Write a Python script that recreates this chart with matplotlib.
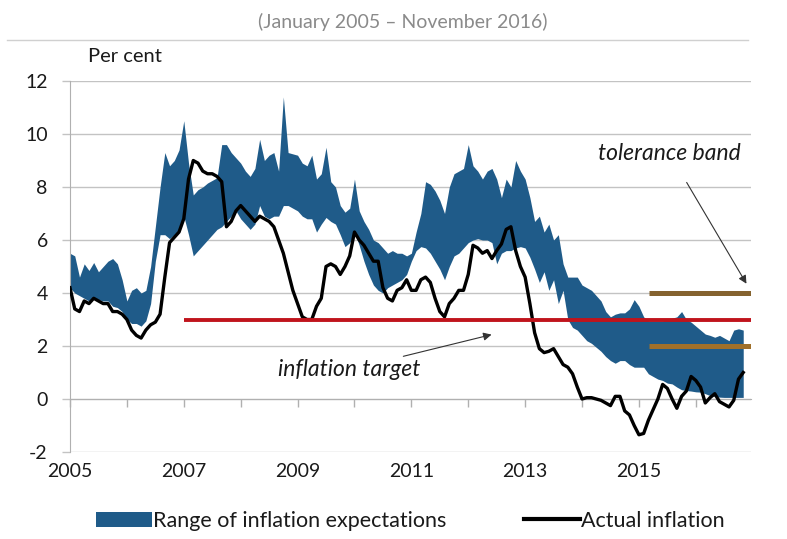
import numpy as np
import matplotlib
matplotlib.use("Agg")
import matplotlib.pyplot as plt
from matplotlib.patches import Patch
from matplotlib.lines import Line2D

plt.rcParams['font.family'] = ['Lato', 'DejaVu Sans']

# ---------------- data (monthly, Jan 2005 - Nov 2016) ----------------
start_year = 2005
band_upper = [5.5, 5.4, 4.6, 5.1, 4.85, 5.15, 4.8, 5.0, 5.2, 5.3, 5.1, 4.5,
              3.7, 4.1, 4.2, 4.0, 4.1, 5.0, 6.5, 8.0, 9.3, 8.8, 9.0, 9.4,
              10.5, 8.9, 7.7, 7.9, 8.0, 8.15, 8.25, 8.35, 9.6, 9.6, 9.3, 9.1,
              8.9, 8.6, 8.4, 8.7, 9.8, 9.0, 9.2, 9.3, 8.6, 11.4, 9.3, 9.25,
              9.2, 8.9, 8.8, 9.2, 8.3, 8.5, 9.5, 8.2, 8.0, 7.3, 7.05, 7.2,
              8.3, 7.1, 6.7, 6.4, 6.0, 5.9, 5.7, 5.5, 5.6, 5.5, 5.5, 5.4,
              5.5, 6.3, 7.0, 8.2, 8.1, 7.85, 7.5, 7.0, 8.0, 8.5, 8.6, 8.7,
              9.6, 8.8, 8.6, 8.3, 8.6, 8.7, 8.3, 7.6, 8.3, 8.0, 9.0, 8.6,
              8.3, 7.6, 6.7, 6.9, 6.3, 6.6, 6.0, 6.2, 5.1, 4.6, 4.6, 4.6,
              4.3, 4.2, 4.1, 3.9, 3.7, 3.3, 3.1, 3.2, 3.25, 3.25, 3.4, 3.75,
              3.5, 3.1, 2.95, 2.95, 2.95, 2.95, 3.0, 3.05, 3.1, 3.3, 3.0, 2.9,
              2.75, 2.6, 2.45, 2.4, 2.33, 2.4, 2.3, 2.2, 2.6, 2.65, 2.6]
band_lower = [4.2, 4.0, 3.9, 3.8, 3.7, 3.85, 3.75, 3.7, 3.7, 3.5, 3.45, 3.3,
              3.0, 2.85, 2.85, 2.75, 2.95, 3.6, 5.2, 6.2, 6.2, 6.05, 6.2, 6.4,
              6.9, 6.2, 5.4, 5.6, 5.8, 6.0, 6.2, 6.4, 6.5, 6.7, 6.9, 7.1,
              6.8, 6.6, 6.4, 6.6, 7.3, 6.9, 6.8, 6.9, 6.9, 7.3, 7.3, 7.2,
              7.1, 6.9, 6.8, 6.8, 6.3, 6.6, 6.85, 6.7, 6.6, 6.2, 5.75, 5.9,
              6.3, 5.8, 5.2, 4.7, 4.3, 4.1, 4.0, 4.2, 4.3, 4.4, 4.5, 4.7,
              5.2, 5.6, 5.75, 5.7, 5.5, 5.2, 4.9, 4.5, 5.0, 5.4, 5.5, 5.7,
              5.9, 6.0, 6.05, 6.0, 6.0, 5.9, 5.1, 5.5, 5.6, 5.6, 5.7, 5.75,
              5.7, 5.35, 4.9, 4.4, 4.8, 4.1, 4.5, 3.6, 4.1, 3.0, 2.7, 2.6,
              2.4, 2.2, 2.1, 1.95, 1.8, 1.6, 1.45, 1.35, 1.45, 1.45, 1.3, 1.2,
              1.2, 1.2, 0.95, 0.85, 0.75, 0.7, 0.6, 0.57, 0.45, 0.35, 0.32, 0.3,
              0.27, 0.26, 0.2, 0.13, 0.1, 0.07, 0.06, 0.06, 0.06, 0.06, 0.06]
actual_inflation = [4.2, 3.4, 3.3, 3.7, 3.6, 3.8, 3.7, 3.6, 3.6, 3.3, 3.3, 3.2,
                    3.0, 2.6, 2.4, 2.3, 2.6, 2.8, 2.9, 3.2, 4.6, 5.9, 6.1, 6.3,
                    6.8, 8.3, 9.0, 8.9, 8.6, 8.5, 8.5, 8.4, 8.2, 6.5, 6.7, 7.1,
                    7.3, 7.1, 6.9, 6.7, 6.9, 6.8, 6.7, 6.5, 6.0, 5.5, 4.8, 4.1,
                    3.6, 3.1, 3.0, 3.0, 3.5, 3.8, 5.0, 5.1, 5.0, 4.7, 5.0, 5.4,
                    6.3, 6.0, 5.8, 5.5, 5.2, 5.2, 4.2, 3.8, 3.7, 4.1, 4.2, 4.5,
                    4.1, 4.1, 4.5, 4.6, 4.4, 3.8, 3.3, 3.1, 3.6, 3.8, 4.1, 4.1,
                    4.7, 5.8, 5.7, 5.5, 5.6, 5.3, 5.6, 5.85, 6.4, 6.5, 5.6, 5.0,
                    4.6, 3.6, 2.5, 1.9, 1.75, 1.8, 1.9, 1.6, 1.3, 1.2, 0.95, 0.45,
                    0.0, 0.05, 0.05, 0.0, -0.05, -0.15, -0.25, 0.1, 0.1, -0.45, -0.6, -1.0,
                    -1.35, -1.3, -0.8, -0.4, 0.0, 0.55, 0.4, 0.0, -0.35, 0.1, 0.3, 0.85,
                    0.7, 0.45, -0.15, 0.05, 0.2, -0.1, -0.2, -0.3, -0.05, 0.75, 1.0]

inflation_target = 3.0
target_start = 2007.0
tolerance_band = [4.0, 2.0]
tolerance_start = 2015.17
year_ticks = list(range(2005, 2017))
year_labels = ['2005', '2007', '2009', '2011', '2013', '2015']
label_years = [2005, 2007, 2009, 2011, 2013, 2015]
y_ticks = [-2, 0, 2, 4, 6, 8, 10, 12]

# ---------------- figure ----------------
months = np.arange(len(actual_inflation))
x = start_year + months / 12.0
x_end = 2016.97

fig = plt.figure(figsize=(7.87, 5.39), dpi=100)
ax = fig.add_axes([70 / 787, 1 - 452 / 539, (751 - 70) / 787, (452 - 81) / 539])

band_color = '#1f5b89'
ax.fill_between(x, band_lower, band_upper, color=band_color, lw=0, zorder=2)
ax.plot(x, actual_inflation, color='black', lw=2.4, zorder=4, solid_joinstyle='round')

ax.hlines(inflation_target, target_start, x_end, color='#c0141c', lw=2.8, zorder=5)
ax.hlines(tolerance_band[0], tolerance_start, x_end, color='#85632f', lw=3.6, zorder=5)
ax.hlines(tolerance_band[1], tolerance_start, x_end, color='#a0702a', lw=3.6, zorder=5)

ax.set_xlim(start_year, x_end)
ax.set_ylim(-2, 12)
ax.set_yticks(y_ticks)
ax.set_yticklabels([str(v) for v in y_ticks])
ax.yaxis.grid(True, color='#c3c3c3', lw=1.0, zorder=0)
ax.set_axisbelow(True)
ax.tick_params(axis='y', length=6, width=1, color='#c3c3c3', direction='out',
               pad=10, labelsize=14, labelcolor='#1a1a1a')

for s in ['top', 'right']:
    ax.spines[s].set_visible(False)
ax.spines['left'].set_color('#b0b0b0')
ax.spines['bottom'].set_position(('data', 0))
ax.spines['bottom'].set_color('#b0b0b0')
ax.set_xticks(year_ticks)
ax.set_xticklabels([])
ax.tick_params(axis='x', length=6, width=1, color='#b0b0b0', direction='out')

sec = ax.secondary_xaxis('bottom')
sec.set_xticks(label_years)
sec.set_xticklabels(year_labels)
sec.tick_params(length=0, pad=8, labelsize=14, labelcolor='#1a1a1a')
sec.spines['bottom'].set_visible(False)

# annotations
ax.annotate('tolerance band', xy=(2016.89, 4.35), xytext=(2015.54, 9.26),
            ha='center', va='center', fontsize=16.5, style='italic', color='#1a1a1a',
            arrowprops=dict(arrowstyle='-|>', color='#333333', lw=0.8,
                            mutation_scale=12, shrinkA=13, shrinkB=0))
ax.annotate('inflation target', xy=(2012.41, 2.43), xytext=(2009.91, 1.11),
            ha='center', va='center', fontsize=16.5, style='italic', color='#1a1a1a',
            arrowprops=dict(arrowstyle='-|>', color='#333333', lw=0.8,
                            mutation_scale=12, shrinkA=80, shrinkB=0))

# texts
fig.text(403 / 787, 1 - 22 / 539, '(January 2005 \u2013 November 2016)', ha='center', va='center',
         fontsize=14, color='#8a8a8a')
fig.text(88 / 787, 1 - 57 / 539, 'Per cent', ha='left', va='center', fontsize=14.5, color='#1a1a1a')

# frame line at top
fig.add_artist(Line2D([7 / 787, 748 / 787], [1 - 40 / 539, 1 - 40 / 539], color='#d0d0d0', lw=1))

# legend
handles = [Patch(facecolor=band_color, edgecolor='none'),
           Line2D([0], [0], color='black', lw=3)]
leg = fig.legend(handles, ['Range of inflation expectations', 'Actual inflation'],
                 loc='center', bbox_to_anchor=(410 / 787, 1 - 521 / 539), ncol=2,
                 frameon=False, fontsize=15.5, handlelength=2.6, handletextpad=0.05,
                 columnspacing=3.6, labelcolor='#1a1a1a')

fig.savefig('out.png', dpi=100)
